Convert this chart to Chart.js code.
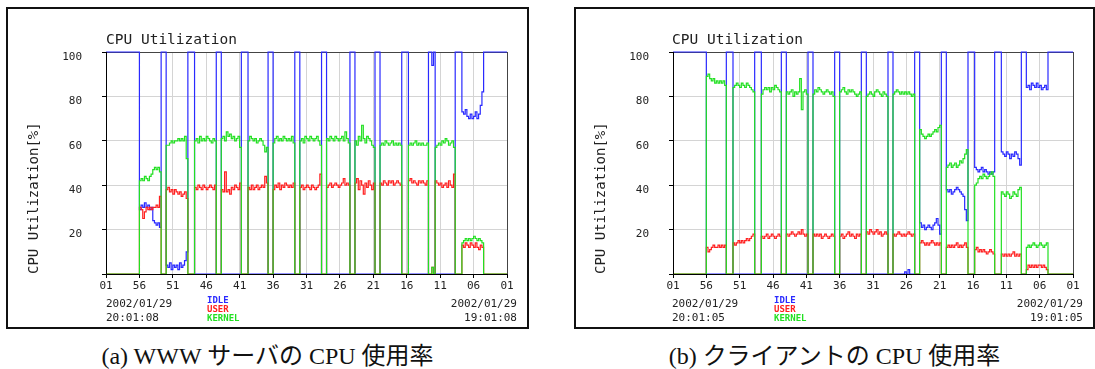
<!DOCTYPE html>
<html>
<head>
<meta charset="utf-8">
<script src="https://cdn.jsdelivr.net/npm/chart.js"></script>
<style>
  html, body { margin: 0; padding: 0; background: #fff; }
  body { width: 1095px; height: 369px; position: relative; overflow: hidden; }
  canvas, .box, .txt { position: absolute; }
  .box { top: 7px; height: 322px; box-sizing: border-box; border: 2px solid #111; }
  .txt { white-space: pre; color: #222; font-family: "DejaVu Sans Mono", monospace; }
  .title { top: 30px; font-size: 14.5px; line-height: 18px; }
  .date { top: 297px; font-size: 11px; line-height: 14px; }
  .right { text-align: right; width: 100px; }
  .legend { top: 296px; font-size: 9px; line-height: 9px; font-weight: bold; }
  .cap { top: 342px; font-size: 24px; line-height: 28px; text-align: center; color: #111;
         font-family: "Liberation Serif", "Noto Sans CJK JP", serif; }
</style>
</head>
<body>
<div class="box" style="left:6px;width:523px"></div>
<div class="box" style="left:574px;width:521px"></div>
<canvas id="chartA" width="523" height="322" style="left:6px;top:7px"></canvas>
<canvas id="chartB" width="522" height="322" style="left:573px;top:7px"></canvas>

<div class="txt title" style="left:106px">CPU Utilization</div>
<div class="txt title" style="left:672px">CPU Utilization</div>

<div class="txt date" style="left:106px">2002/01/29
20:01:08</div>
<div class="txt date right" style="left:417px">2002/01/29
19:01:08</div>
<div class="txt date" style="left:672px">2002/01/29
20:01:05</div>
<div class="txt date right" style="left:983px">2002/01/29
19:01:05</div>

<div class="txt legend" style="left:207px"><span style="color:#2a2aff">IDLE</span>
<span style="color:#ff2020">USER</span>
<span style="color:#22e022">KERNEL</span></div>
<div class="txt legend" style="left:774px"><span style="color:#2a2aff">IDLE</span>
<span style="color:#ff2020">USER</span>
<span style="color:#22e022">KERNEL</span></div>

<div class="txt cap" style="left:6px;width:523px">(a) WWW サーバの CPU 使用率</div>
<div class="txt cap" style="left:574px;width:521px">(b) クライアントの CPU 使用率</div>

<script>
// サンプル間隔 (分)：左端 = 最新 (xx:01)、右へ1時間さかのぼる
const SAMPLE_MIN = 0.25;
const xTickLabels = ['01', '56', '51', '46', '41', '36', '31', '26', '21', '16', '11', '06', '01'];

// (a) WWW サーバ
const idleA = [
  100,100,100,100,100,100,100,100,100,100, 100,100,100,100,100,100,100,100,100,100,
  29,31,30,32,30,31,29,30,24,23,22,23,21,
  100,100,100,
  4,3,5,2,4,3,4,2,5,3,4,6,10,
  100,100,100,100,
  0,0,0,0,0,0,0,0,0,0,0,0,0,
  100,100,100,
  0,0,0,0,0,0,0,0,0,0,0,0,
  100,100,100,100,
  0,0,0,0,0,0,0,0,0,0,0,0,
  100,100,100,
  0,0,0,0,0,0,0,0,0,0,0,0,0,
  100,100,100,
  0,0,0,0,0,0,0,0,0,0,0,0,0,
  100,100,100,
  0,0,0,0,0,0,0,0,0,0,0,0,0,0,
  100,100,100,
  0,0,0,0,0,0,0,0,0,0,0,0,
  100,100,100,
  0,0,0,0,0,0,0,0,0,0,0,0,0,
  100,100,100,100,
  0,0,0,0,0,0,0,0,0,0,0,0,
  100,100,94,100,
  0,0,0,0,0,0,0,0,0,0,0,0,
  100,100,100,100,
  73,72,74,71,70,72,70,71,73,70,72,76,82,
  100,100,100,100,100,100,100,100,100,100, 100,100,100,100,100
];
const userA = [
  0,0,0,0,0,0,0,0,0,0, 0,0,0,0,0,0,0,0,0,0,
  30,29,25,28,30,29,30,29,30,30,31,30,35,
  0,0,0,
  38,39,37,38,36,38,37,36,37,35,36,37,34,
  0,0,0,0,
  39,38,40,39,38,40,39,38,39,40,39,38,40,
  0,0,0,
  38,37,46,37,38,36,39,38,40,39,38,41,
  0,0,0,0,
  39,38,40,38,39,40,38,39,40,39,44,41,
  0,0,0,
  38,40,39,41,38,40,39,41,40,39,40,39,41,
  0,0,0,
  39,40,38,39,40,39,38,40,39,38,39,40,45,
  0,0,0,
  39,40,41,39,40,41,40,39,40,41,43,40,41,40,
  0,0,0,
  41,43,38,42,40,36,41,39,42,40,38,41,
  0,0,0,
  41,40,42,41,40,42,41,42,40,41,42,41,40,
  0,0,0,0,
  42,43,41,42,41,40,42,41,42,41,40,42,
  0,0,3,0,
  42,41,40,41,39,40,41,39,42,40,39,45,
  0,0,0,0,
  13,12,14,13,12,14,13,12,14,12,11,13,12,
  0,0,0,0,0,0,0,0,0,0, 0,0,0,0,0
];
const kernelA = [
  0,0,0,0,0,0,0,0,0,0, 0,0,0,0,0,0,0,0,0,0,
  42,43,42,44,43,42,44,45,47,48,47,48,46,
  0,0,0,
  58,58,59,60,59,60,60,61,60,61,60,62,52,
  0,0,0,0,
  60,61,59,62,60,61,60,62,61,60,59,61,60,
  0,0,0,
  61,62,60,64,62,63,61,62,60,61,62,57,
  0,0,0,0,
  60,62,61,60,61,59,60,61,60,58,55,57,
  0,0,0,
  59,61,62,60,61,60,62,61,60,61,60,62,59,
  0,0,0,
  60,61,59,62,61,60,62,61,60,61,62,60,58,
  0,0,0,
  61,60,62,61,60,62,61,60,61,62,60,64,61,59,
  0,0,0,
  60,58,62,60,67,61,59,62,61,60,58,57,
  0,0,0,
  58,59,58,60,59,58,59,60,58,59,58,59,58,
  0,0,0,0,
  58,59,58,59,60,58,59,58,59,58,58,59,
  0,0,3,0,
  57,58,59,58,60,59,61,60,58,59,60,57,
  0,0,0,0,
  14,15,16,15,16,15,16,17,16,15,16,15,14,
  0,0,0,0,0,0,0,0,0,0, 0,0,0,0,0
];

// (b) クライアント
const idleB = [
  100,100,100,100,100,100,100,100,100,100, 100,100,100,100,100,100,100,100,100,100,
  0,0,0,0,0,0,0,0,0,0,0,0,
  100,100,100,100,
  0,0,0,0,0,0,0,0,0,0,0,0,0,
  100,100,100,100,
  0,0,0,0,0,0,0,0,0,0,0,0,
  100,100,100,
  0,0,0,0,0,0,0,0,0,0,0,0,0,
  100,100,100,
  0,0,0,0,0,0,0,0,0,0,0,0,0,
  100,100,100,
  0,0,0,0,0,0,0,0,0,0,0,0,0,
  100,100,100,
  0,0,0,0,0,0,0,0,0,0,0,0,0,
  100,100,100,
  0,0,0,0,0,0,0,1,0,2,0,0,0,
  100,100,100,
  23,21,22,20,21,22,21,20,22,23,25,22,18,
  100,100,100,
  38,37,38,36,37,38,39,38,37,36,35,29,24,
  100,100,100,100,
  48,47,46,47,48,46,47,46,45,46,45,46,
  100,100,100,100,
  55,54,53,55,54,52,54,53,55,54,52,49,
  100,100,100,
  84,85,83,86,85,84,86,84,85,83,84,85,83,
  100,100,100,100,100,100,100,100,100,100, 100,100,100,100,100,100
];
const userB = [
  0,0,0,0,0,0,0,0,0,0, 0,0,0,0,0,0,0,0,0,0,
  12,10,11,12,13,12,12,13,12,13,12,13,
  0,0,0,0,
  14,13,14,15,14,15,14,15,16,15,16,17,18,
  0,0,0,0,
  17,16,17,18,16,17,18,17,16,17,18,17,
  0,0,0,
  18,17,18,19,18,17,18,19,18,20,18,17,18,
  0,0,0,
  18,17,18,17,18,16,17,18,17,16,17,18,17,
  0,0,0,
  17,18,16,17,18,19,17,18,17,16,18,17,18,
  0,0,0,
  19,18,20,19,18,19,20,18,19,17,18,19,18,
  0,0,0,
  18,17,18,19,18,17,18,17,18,19,18,17,18,
  0,0,0,
  14,15,14,13,14,13,14,15,14,13,14,13,14,
  0,0,0,
  12,13,12,13,12,13,14,12,13,12,13,14,12,
  0,0,0,0,
  11,12,10,11,10,11,10,9,10,11,10,9,
  0,0,0,0,
  9,8,9,8,9,8,9,10,8,9,8,9,
  0,0,0,
  2,4,3,4,3,4,3,4,4,3,4,3,2,
  0,0,0,0,0,0,0,0,0,0, 0,0,0,0,0,0
];
const kernelB = [
  0,0,0,0,0,0,0,0,0,0, 0,0,0,0,0,0,0,0,0,0,
  89,90,88,87,88,86,87,86,87,86,87,85,
  0,0,0,0,
  84,85,86,85,84,86,85,84,86,85,84,83,82,
  0,0,0,0,
  81,83,84,83,84,82,84,83,85,84,83,82,
  0,0,0,
  82,81,82,83,80,82,81,82,88,74,82,83,81,
  0,0,0,
  81,83,82,84,83,82,81,82,83,82,81,82,80,
  0,0,0,
  82,83,84,82,81,83,82,83,82,81,80,81,82,
  0,0,0,
  80,81,82,81,80,82,83,82,81,80,82,81,80,
  0,0,0,
  81,82,83,82,81,82,81,82,81,82,81,80,81,
  0,0,0,
  65,63,62,61,62,63,62,63,64,65,64,66,67,
  0,0,0,
  48,49,50,48,49,50,48,49,51,50,52,54,56,
  0,0,0,0,
  40,41,43,44,43,45,44,43,44,45,46,44,
  0,0,0,0,
  37,36,35,37,36,34,35,37,36,35,38,39,
  0,0,0,
  12,13,12,13,14,13,12,13,14,13,12,13,14,
  0,0,0,0,0,0,0,0,0,0, 0,0,0,0,0,0
];

Chart.defaults.font.family = "'DejaVu Sans Mono', monospace";
Chart.defaults.color = '#222';

// 軸線をデータ線の上にもう一度描く
const axisOnTop = {
  id: 'axisOnTop',
  afterDatasetsDraw(chart) {
    const { ctx, chartArea: a } = chart;
    ctx.save();
    ctx.strokeStyle = '#000';
    ctx.lineWidth = 1;
    ctx.beginPath();
    ctx.moveTo(a.left + 0.5, a.top);
    ctx.lineTo(a.left + 0.5, a.bottom + 0.5);
    ctx.lineTo(a.right, a.bottom + 0.5);
    ctx.stroke();
    ctx.restore();
  }
};

const toPoints = vals => vals.map((v, i) => ({ x: i * SAMPLE_MIN, y: v }));

function drawPanel(id, idle, user, kernel) {
  const gridGray = '#d4d4d4';
  return new Chart(document.getElementById(id), {
    type: 'line',
    data: {
      datasets: [
        { label: 'KERNEL', data: toPoints(kernel), borderColor: '#22e022' },
        { label: 'USER', data: toPoints(user), borderColor: '#ff2020' },
        { label: 'IDLE', data: toPoints(idle), borderColor: '#2a2aff' }
      ]
    },
    options: {
      responsive: false,
      animation: false,
      devicePixelRatio: 1,
      layout: { padding: { top: 45, right: 22, bottom: 35, left: 0 } },
      elements: {
        point: { radius: 0 },
        line: { borderWidth: 1.2, stepped: true, tension: 0, fill: false }
      },
      datasets: { line: { clip: 3 } },
      plugins: { legend: { display: false }, tooltip: { enabled: false } },
      scales: {
        x: {
          type: 'linear', min: 0, max: 60,
          afterFit: s => { s.height = 20; },
          grid: {
            color: c => (c.tick && c.tick.value === 60 ? '#444' : gridGray),
            tickColor: '#000', tickLength: 4
          },
          border: { color: '#000' },
          ticks: {
            stepSize: 5, autoSkip: false, maxRotation: 0, padding: 2,
            font: { size: 11 },
            callback: (v, i) => xTickLabels[i]
          }
        },
        y: {
          min: 0, max: 100,
          afterFit: s => { s.width = 100; },
          grid: {
            color: c => (c.tick && c.tick.value === 100 ? '#444' : gridGray),
            tickColor: '#000', tickLength: 4
          },
          border: { color: '#000' },
          ticks: {
            stepSize: 20, padding: 20, labelOffset: 5,
            font: { size: 11 },
            callback: v => (v === 0 ? '' : v)
          },
          title: {
            display: true, text: 'CPU Utilization[%]', align: 'start',
            font: { size: 14 }, padding: { top: 20, bottom: 0 }
          }
        }
      }
    },
    plugins: [axisOnTop]
  });
}

drawPanel('chartA', idleA, userA, kernelA);
drawPanel('chartB', idleB, userB, kernelB);
</script>
</body>
</html>
